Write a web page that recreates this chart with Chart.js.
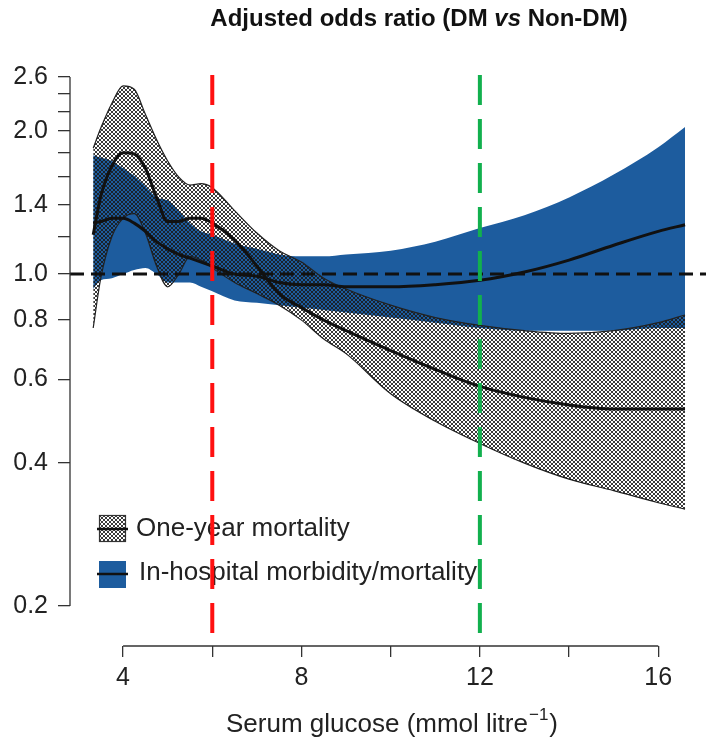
<!DOCTYPE html>
<html>
<head>
<meta charset="utf-8">
<script src="https://cdn.jsdelivr.net/npm/chart.js@4.4.0/dist/chart.umd.min.js"></script>
<style>
  html, body { margin: 0; padding: 0; background: #fff; }
  #wrap { position: relative; width: 706px; height: 743px; }
</style>
</head>
<body>
<div id="wrap"><canvas id="chart"></canvas></div>
<script>
// Serum glucose (mmol/l) where the curves were read
const glucose = [3.33, 3.5, 3.75, 4.0, 4.25, 4.5, 4.75, 5.0, 5.25, 5.5, 5.75, 6.0, 6.5, 7.0, 7.5, 8.0, 8.5, 9.0, 10, 11, 12, 13, 14, 15, 16, 16.6];

// One-year mortality: adjusted OR and confidence band
const mortOR    = [1.21, 1.46, 1.69, 1.80, 1.79, 1.67, 1.45, 1.29, 1.29, 1.31, 1.31, 1.28, 1.18, 1.04, 0.91, 0.85, 0.80, 0.76, 0.69, 0.63, 0.58, 0.55, 0.53, 0.52, 0.52, 0.52];
const mortUpper = [1.84, 2.03, 2.29, 2.49, 2.45, 2.17, 1.92, 1.73, 1.60, 1.54, 1.55, 1.52, 1.36, 1.22, 1.12, 1.06, 0.98, 0.93, 0.86, 0.81, 0.78, 0.76, 0.75, 0.76, 0.79, 0.82];
const mortLower = [0.77, 0.98, 1.20, 1.31, 1.34, 1.22, 1.04, 0.94, 1.00, 1.09, 1.07, 1.03, 0.96, 0.91, 0.86, 0.80, 0.73, 0.68, 0.56, 0.49, 0.44, 0.40, 0.37, 0.35, 0.33, 0.32];

// In-hospital morbidity/mortality: adjusted OR and confidence band
const morbOR    = [1.28, 1.29, 1.31, 1.31, 1.28, 1.23, 1.17, 1.13, 1.10, 1.08, 1.06, 1.04, 1.00, 0.99, 0.96, 0.95, 0.95, 0.94, 0.94, 0.95, 0.97, 1.01, 1.07, 1.15, 1.23, 1.27];
const morbUpper = [1.78, 1.76, 1.73, 1.67, 1.61, 1.53, 1.45, 1.43, 1.36, 1.28, 1.23, 1.21, 1.16, 1.13, 1.10, 1.09, 1.09, 1.10, 1.12, 1.17, 1.25, 1.33, 1.45, 1.62, 1.85, 2.04];
const morbLower = [0.93, 0.97, 0.98, 1.00, 1.02, 1.03, 1.00, 0.96, 0.96, 0.96, 0.94, 0.92, 0.88, 0.87, 0.86, 0.85, 0.84, 0.83, 0.81, 0.79, 0.77, 0.76, 0.76, 0.76, 0.77, 0.77];

// Reference lines
const refOR = 1.0;
const cutoffs = [6, 12];

// Axis ticks
const yTicks = [0.2, 0.4, 0.6, 0.8, 1.0, 1.2, 1.4, 1.6, 1.8, 2.0, 2.2, 2.4, 2.6];
const yLabelled = [0.2, 0.4, 0.6, 0.8, 1.0, 1.4, 2.0, 2.6];
const xTicks = [4, 6, 8, 10, 12, 14, 16];
const xLabelled = [4, 8, 12, 16];

const xMin = 2.81, xMax = 17.07;
const yMin = 0.1648, yMax = 2.625;

const BLUE = '#1d5c9e';
const FONT = '"Liberation Sans", Arial, Helvetica, sans-serif';
const TXT = '#222';

// cross-hatch pattern (transparent background)
function hatchPattern(ctx) {
  const tile = document.createElement('canvas');
  tile.width = 4; tile.height = 4;
  const t = tile.getContext('2d');
  t.fillStyle = 'rgba(25,25,25,0.85)';
  for (let i = 0; i < 4; i++) {
    t.fillRect(i, i, 1, 1);
    t.fillRect(3 - i, i, 1, 1);
  }
  return ctx.createPattern(tile, 'repeat');
}

const ctx = document.getElementById('chart').getContext('2d');
const hatch = hatchPattern(ctx);

function serie(values, extra) {
  return Object.assign({
    data: glucose.map((g, i) => ({ x: g, y: values[i] })),
    pointRadius: 0,
    borderWidth: 0,
    cubicInterpolationMode: 'monotone',
    fill: false
  }, extra);
}

function drawLegend(c) {
  c.save();
  // one-year mortality
  c.fillStyle = '#fff';
  c.fillRect(99, 515, 27, 27);
  c.fillStyle = hatch;
  c.fillRect(99, 515, 27, 27);
  c.strokeStyle = '#333';
  c.lineWidth = 1.2;
  c.strokeRect(99.5, 515.5, 26, 26);
  // in-hospital
  c.fillStyle = BLUE;
  c.fillRect(99, 561, 27, 27);
  c.strokeStyle = '#111';
  c.lineWidth = 2.5;
  c.beginPath();
  c.moveTo(97, 529); c.lineTo(128, 529);
  c.moveTo(97, 574); c.lineTo(128, 574);
  c.stroke();
  c.fillStyle = TXT;
  c.font = '26px ' + FONT;
  c.textBaseline = 'middle';
  c.textAlign = 'left';
  c.fillText('One-year mortality', 136, 529);
  c.fillText('In-hospital morbidity/mortality', 139, 573);
  c.restore();
}

const overlay = {
  id: 'overlay',
  beforeDatasetsDraw(chart) {
    drawLegend(chart.ctx);
  },
  afterDraw(chart) {
    const { ctx: c, chartArea, scales } = chart;
    c.save();
    // axis lines over the tick range only
    c.strokeStyle = '#333';
    c.lineWidth = 1.3;
    c.beginPath();
    c.moveTo(scales.x.getPixelForValue(xTicks[0]), chartArea.bottom);
    c.lineTo(scales.x.getPixelForValue(xTicks[xTicks.length - 1]), chartArea.bottom);
    c.moveTo(chartArea.left, scales.y.getPixelForValue(yTicks[0]));
    c.lineTo(chartArea.left, scales.y.getPixelForValue(yTicks[yTicks.length - 1]));
    c.stroke();

    // title with italic "vs"
    const parts = [
      ['bold 24px ' + FONT, 'Adjusted odds ratio (DM '],
      ['italic bold 24px ' + FONT, 'vs'],
      ['bold 24px ' + FONT, ' Non-DM)']
    ];
    let w = 0;
    parts.forEach(p => { c.font = p[0]; w += c.measureText(p[1]).width; });
    let x = 419 - w / 2;
    c.fillStyle = '#111';
    c.textBaseline = 'alphabetic';
    c.textAlign = 'left';
    parts.forEach(p => { c.font = p[0]; c.fillText(p[1], x, 26); x += c.measureText(p[1]).width; });

    // x axis title with superscript
    const main = 'Serum glucose (mmol litre';
    const sup = '\u22121';
    c.font = '26px ' + FONT;
    const w1 = c.measureText(main).width;
    const w3 = c.measureText(')').width;
    c.font = '17px ' + FONT;
    const w2 = c.measureText(sup).width;
    let sx = 391 - (w1 + w2 + w3) / 2;
    c.fillStyle = TXT;
    c.font = '26px ' + FONT;
    c.fillText(main, sx, 732);
    c.font = '17px ' + FONT;
    c.fillText(sup, sx + w1 + 1, 720);
    c.font = '26px ' + FONT;
    c.fillText(')', sx + w1 + w2 + 2, 732);
    c.restore();
  }
};

new Chart(ctx, {
  type: 'line',
  data: {
    datasets: [
      serie(morbLower, { order: 10 }),
      serie(morbUpper, { order: 9, fill: '-1', backgroundColor: BLUE }),
      serie(mortLower, { order: 8, borderWidth: 1.2, borderColor: '#222' }),
      serie(mortUpper, { order: 7, borderWidth: 1.2, borderColor: '#222', fill: '-1', backgroundColor: hatch }),
      serie(morbOR, { order: 5, borderWidth: 3, borderColor: '#111' }),
      serie(mortOR, { order: 4, borderWidth: 3, borderColor: '#111' }),
      {
        order: 3,
        data: [{ x: xMin, y: refOR }, { x: xMax, y: refOR }],
        borderColor: '#111', borderWidth: 3, borderDash: [14, 7], pointRadius: 0, fill: false
      },
      {
        order: 2,
        data: [{ x: cutoffs[0], y: yMax }, { x: cutoffs[0], y: yMin }],
        borderColor: '#ff1010', borderWidth: 4, borderDash: [30, 14], pointRadius: 0, fill: false
      },
      {
        order: 1,
        data: [{ x: cutoffs[1], y: yMax }, { x: cutoffs[1], y: yMin }],
        borderColor: '#12b04e', borderWidth: 4, borderDash: [30, 14], pointRadius: 0, fill: false
      }
    ]
  },
  options: {
    responsive: true,
    maintainAspectRatio: false,
    animation: false,
    events: [],
    layout: { padding: { top: 75, right: 0, left: 0, bottom: 0 } },
    plugins: {
      legend: { display: false },
      tooltip: { enabled: false },
      title: { display: false }
    },
    scales: {
      x: {
        type: 'linear',
        min: xMin,
        max: xMax,
        afterBuildTicks: s => { s.ticks = xTicks.map(v => ({ value: v })); },
        afterFit: s => { s.height = 97; },
        grid: { display: true, drawOnChartArea: false, drawTicks: true, tickLength: 11, color: '#333', lineWidth: 1.3 },
        border: { display: false },
        ticks: {
          autoSkip: false,
          maxRotation: 0,
          padding: 6,
          color: TXT,
          font: { family: FONT, size: 25 },
          callback: v => xLabelled.includes(v) ? String(v) : ''
        }
      },
      y: {
        type: 'logarithmic',
        min: yMin,
        max: yMax,
        afterBuildTicks: s => { s.ticks = yTicks.map(v => ({ value: v })); },
        afterFit: s => { s.width = 70; },
        grid: { display: true, drawOnChartArea: false, drawTicks: true, tickLength: 12, color: '#333', lineWidth: 1.3 },
        border: { display: false },
        ticks: {
          autoSkip: false,
          padding: 10,
          color: TXT,
          font: { family: FONT, size: 25 },
          callback: v => yLabelled.includes(v) ? v.toFixed(1) : ''
        }
      }
    }
  },
  plugins: [overlay]
});
</script>
</body>
</html>
